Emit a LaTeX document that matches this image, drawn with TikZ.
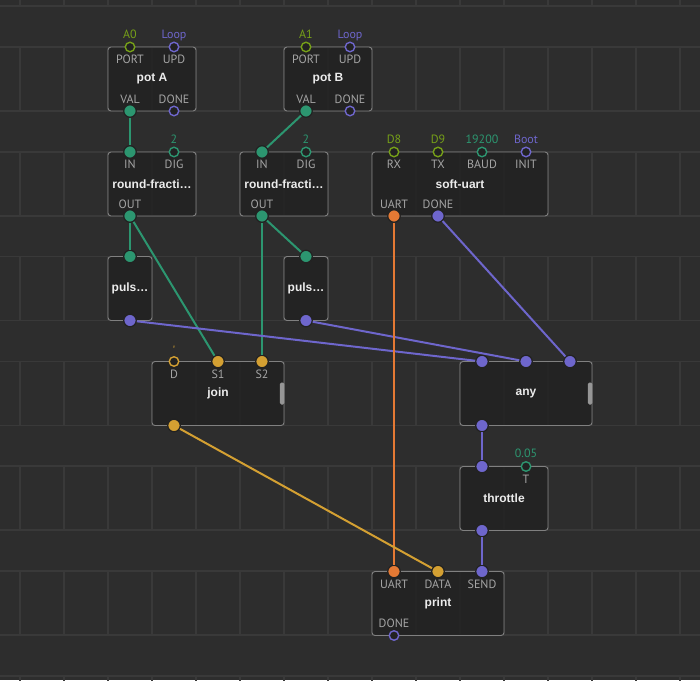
\documentclass[tikz,border=0pt]{standalone}
\usepackage{fontspec}
\setmainfont{Liberation Sans}
\newfontfamily\pinfont{PT Sans}
\usetikzlibrary{calc}
\definecolor{xbg}{RGB}{45,45,45}
\definecolor{xgrid}{RGB}{57,57,57}
\definecolor{xfill}{RGB}{34,34,34}
\definecolor{xborder}{RGB}{128,128,128}
\definecolor{xtab}{RGB}{150,150,150}
\definecolor{xlabel}{RGB}{165,165,165}
\definecolor{xtitle}{RGB}{236,236,236}
\definecolor{xteal}{RGB}{44,150,112}
\definecolor{xpurple}{RGB}{110,102,204}
\definecolor{xorange}{RGB}{228,121,52}
\definecolor{xgold}{RGB}{212,160,50}
\definecolor{xolive}{RGB}{118,160,24}

\begin{document}
\begin{tikzpicture}[x=1pt,y=-1pt,
  gridline/.style={xgrid,line width=1.5pt},
  box/.style={draw=xborder,line width=0.9pt,rounded corners=3pt,fill=xfill,fill opacity=0.86,text opacity=1,
    minimum height=64pt,inner sep=0pt,text=xtitle,font=\bfseries\fontsize{12}{12}\selectfont},
  hollowpin/.style={circle,draw=#1,line width=1.4pt,fill=xfill,minimum size=9.5pt,inner sep=0pt},
  fullpin/.style={circle,fill=#1,draw=xfill,line width=1.2pt,minimum size=12.5pt,inner sep=0pt},
  pintext/.style={anchor=base,inner sep=0pt,text=xlabel,font=\pinfont\fontsize{12}{12}\selectfont},
  valtext/.style={anchor=base,inner sep=0pt,text=#1,font=\pinfont\fontsize{12}{12}\selectfont},
  wire/.style={line width=2pt,#1}]
  \useasboundingbox (0,0) rectangle (700,680);
  \fill[xbg] (0,0) rectangle (700,680);
  \clip (0,0) rectangle (700,680);
  % Grid
  \foreach \k in {-1,...,6} {
    \draw[gridline] (0,{47+104.8*\k}) -- (700,{47+104.8*\k});
    \draw[gridline] (0,{111+104.8*\k}) -- (700,{111+104.8*\k});
    \foreach \c in {0,...,15}
      \draw[gridline] ({20+44*\c},{47+104.8*\k}) -- ({20+44*\c},{111+104.8*\k});
  }

  % pot A
  \node[box,minimum width=88pt] (potA) at (152,79) {pot A};
  \node[hollowpin=xolive] (potA-PORT) at (130,47) {};
  \node[hollowpin=xpurple] (potA-UPD) at (174,47) {};
  \node[fullpin=xteal] (potA-VAL) at (130,111) {};
  \node[hollowpin=xpurple] (potA-DONE) at (174,111) {};
  \node[valtext=xolive] (potA-PORT-v) at (130,38) {A0};
  \node[valtext=xpurple] (potA-UPD-v) at (174,38) {Loop};
  \node[pintext] (potA-PORT-l) at (130,63.5) {PORT};
  \node[pintext] (potA-UPD-l) at (174,63.5) {UPD};
  \node[pintext] (potA-VAL-l) at (130,103) {VAL};
  \node[pintext] (potA-DONE-l) at (174,103) {DONE};

  % pot B
  \node[box,minimum width=88pt] (potB) at (328,79) {pot B};
  \node[hollowpin=xolive] (potB-PORT) at (306,47) {};
  \node[hollowpin=xpurple] (potB-UPD) at (350,47) {};
  \node[fullpin=xteal] (potB-VAL) at (306,111) {};
  \node[hollowpin=xpurple] (potB-DONE) at (350,111) {};
  \node[valtext=xolive] (potB-PORT-v) at (306,38) {A1};
  \node[valtext=xpurple] (potB-UPD-v) at (350,38) {Loop};
  \node[pintext] (potB-PORT-l) at (306,63.5) {PORT};
  \node[pintext] (potB-UPD-l) at (350,63.5) {UPD};
  \node[pintext] (potB-VAL-l) at (306,103) {VAL};
  \node[pintext] (potB-DONE-l) at (350,103) {DONE};

  % round-fraction 1
  \node[box,minimum width=88pt] (rf1) at (152,184) {round-fracti…};
  \node[fullpin=xteal] (rf1-IN) at (130,152) {};
  \node[hollowpin=xteal] (rf1-DIG) at (174,152) {};
  \node[fullpin=xteal] (rf1-OUT) at (130,216) {};
  \node[valtext=xteal] (rf1-DIG-v) at (174,143) {2};
  \node[pintext] (rf1-IN-l) at (130,168.5) {IN};
  \node[pintext] (rf1-DIG-l) at (174,168.5) {DIG};
  \node[pintext] (rf1-OUT-l) at (130,208) {OUT};

  % round-fraction 2
  \node[box,minimum width=88pt] (rf2) at (284,184) {round-fracti…};
  \node[fullpin=xteal] (rf2-IN) at (262,152) {};
  \node[hollowpin=xteal] (rf2-DIG) at (306,152) {};
  \node[fullpin=xteal] (rf2-OUT) at (262,216) {};
  \node[valtext=xteal] (rf2-DIG-v) at (306,143) {2};
  \node[pintext] (rf2-IN-l) at (262,168.5) {IN};
  \node[pintext] (rf2-DIG-l) at (306,168.5) {DIG};
  \node[pintext] (rf2-OUT-l) at (262,208) {OUT};

  % soft-uart
  \node[box,minimum width=176pt] (uart) at (460,184) {soft-uart};
  \node[hollowpin=xolive] (uart-RX) at (394,152) {};
  \node[hollowpin=xolive] (uart-TX) at (438,152) {};
  \node[hollowpin=xteal] (uart-BAUD) at (482,152) {};
  \node[hollowpin=xpurple] (uart-INIT) at (526,152) {};
  \node[fullpin=xorange] (uart-UART) at (394,216) {};
  \node[fullpin=xpurple] (uart-DONE) at (438,216) {};
  \node[valtext=xolive] (uart-RX-v) at (394,143) {D8};
  \node[valtext=xolive] (uart-TX-v) at (438,143) {D9};
  \node[valtext=xteal] (uart-BAUD-v) at (482,143) {19200};
  \node[valtext=xpurple] (uart-INIT-v) at (526,143) {Boot};
  \node[pintext] (uart-RX-l) at (394,168.5) {RX};
  \node[pintext] (uart-TX-l) at (438,168.5) {TX};
  \node[pintext] (uart-BAUD-l) at (482,168.5) {BAUD};
  \node[pintext] (uart-INIT-l) at (526,168.5) {INIT};
  \node[pintext] (uart-UART-l) at (394,208) {UART};
  \node[pintext] (uart-DONE-l) at (438,208) {DONE};

  % pulse nodes
  \node[box,minimum width=44pt] (puls1) at (130,288.5) {puls…};
  \node[fullpin=xteal] (puls1-in) at (130,256.5) {};
  \node[fullpin=xpurple] (puls1-out) at (130,320.5) {};
  \node[box,minimum width=44pt] (puls2) at (306,288.5) {puls…};
  \node[fullpin=xteal] (puls2-in) at (306,256.5) {};
  \node[fullpin=xpurple] (puls2-out) at (306,320.5) {};

  % join
  \node[box,minimum width=132pt] (join) at (218,393.5) {join};
  \fill[xtab,rounded corners=1.5pt] ($(join.east)+(-4.5,-11)$) rectangle ($(join.east)+(0,11)$);
  \node[hollowpin=xgold] (join-D) at (174,361.5) {};
  \node[fullpin=xgold] (join-S1) at (218,361.5) {};
  \node[fullpin=xgold] (join-S2) at (262,361.5) {};
  \node[fullpin=xgold] (join-out) at (174,425.5) {};
  \node[valtext=xgold] (join-D-v) at (174,354) {'};
  \node[pintext] (join-D-l) at (174,378) {D};
  \node[pintext] (join-S1-l) at (218,378) {S1};
  \node[pintext] (join-S2-l) at (262,378) {S2};

  % any
  \node[box,minimum width=132pt] (any) at (526,393.5) {any};
  \fill[xtab,rounded corners=1.5pt] ($(any.east)+(-4.5,-11)$) rectangle ($(any.east)+(0,11)$);
  \node[fullpin=xpurple] (any-p1) at (482,361.5) {};
  \node[fullpin=xpurple] (any-p2) at (526,361.5) {};
  \node[fullpin=xpurple] (any-p3) at (570,361.5) {};
  \node[fullpin=xpurple] (any-out) at (482,425.5) {};

  % throttle
  \node[box,minimum width=88pt] (throttle) at (504,498.5) {throttle};
  \node[fullpin=xpurple] (throttle-in) at (482,466.5) {};
  \node[hollowpin=xteal] (throttle-T) at (526,466.5) {};
  \node[fullpin=xpurple] (throttle-out) at (482,530.5) {};
  \node[valtext=xteal] (throttle-T-v) at (526,457.5) {0.05};
  \node[pintext] (throttle-T-l) at (526,483) {T};

  % print
  \node[box,minimum width=132pt] (print) at (438,603.5) {print};
  \node[fullpin=xorange] (print-UART) at (394,571.5) {};
  \node[fullpin=xgold] (print-DATA) at (438,571.5) {};
  \node[fullpin=xpurple] (print-SEND) at (482,571.5) {};
  \node[hollowpin=xpurple] (print-DONE) at (394,635.5) {};
  \node[pintext] (print-UART-l) at (394,588) {UART};
  \node[pintext] (print-DATA-l) at (438,588) {DATA};
  \node[pintext] (print-SEND-l) at (482,588) {SEND};
  \node[pintext] (print-DONE-l) at (394,627.5) {DONE};

  % Links
  \draw[wire=xteal] (potA-VAL) -- (rf1-IN);
  \draw[wire=xteal] (potB-VAL) -- (rf2-IN);
  \draw[wire=xteal] (rf1-OUT) -- (puls1-in);
  \draw[wire=xteal] (rf1-OUT) -- (join-S1);
  \draw[wire=xteal] (rf2-OUT) -- (puls2-in);
  \draw[wire=xteal] (rf2-OUT) -- (join-S2);
  \draw[wire=xpurple] (puls1-out) -- (any-p1);
  \draw[wire=xpurple] (puls2-out) -- (any-p2);
  \draw[wire=xpurple] (uart-DONE) -- (any-p3);
  \draw[wire=xorange] (uart-UART) -- (print-UART);
  \draw[wire=xgold] (join-out) -- (print-DATA);
  \draw[wire=xpurple] (any-out) -- (throttle-in);
  \draw[wire=xpurple] (throttle-out) -- (print-SEND);
\end{tikzpicture}
\end{document}
